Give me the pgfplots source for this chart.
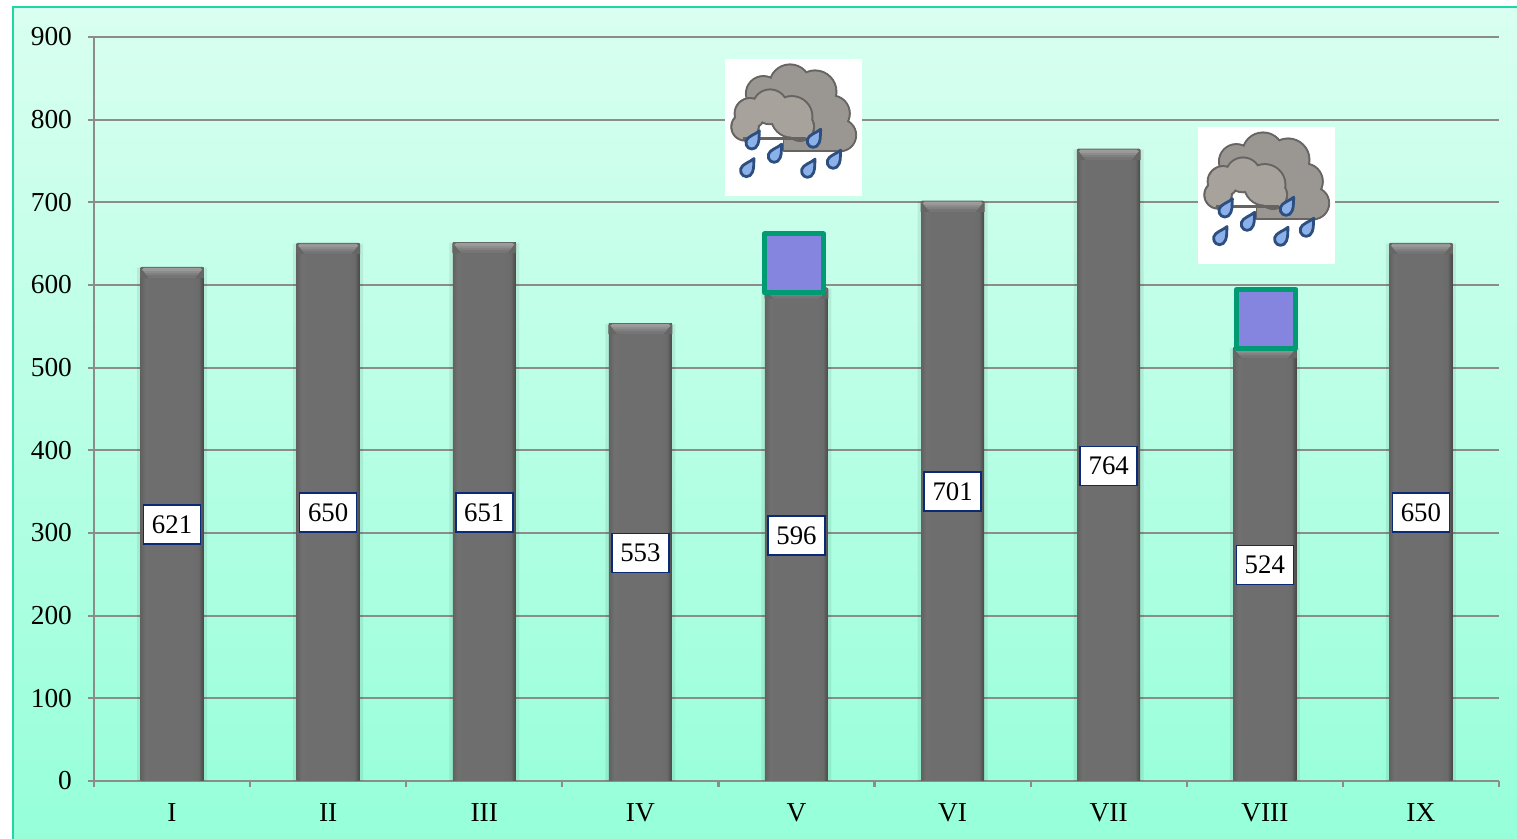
\documentclass[border=0pt]{standalone}
\usepackage{pgfplots}
\pgfplotsset{compat=1.18}
\usepackage{fontspec}
\setmainfont{Liberation Serif}
\definecolor{gridc}{HTML}{8C8C8C}
\definecolor{bord}{HTML}{1FD6A6}
\definecolor{labb}{HTML}{0A2A78}
\definecolor{cldline}{HTML}{666462}
\definecolor{cldback}{HTML}{9A9793}
\definecolor{cldfront}{HTML}{A8A29C}
\definecolor{dropf}{HTML}{8CB0EA}
\definecolor{dropd}{HTML}{2D4F80}
\pgfdeclarehorizontalshading{barshade}{100bp}{color(0bp)=(black!62); color(25bp)=(black!62); color(29bp)=(black!56); color(33bp)=(black!57); color(67bp)=(black!57); color(71bp)=(black!58); color(75bp)=(black!72); color(100bp)=(black!72)}
\pgfdeclareplotmark{barcap}{%
  \fill[black!60] (-15.75pt,-5pt) -- (-15.75pt,-0.6pt) -- (-15.1pt,0.2pt) -- (15.1pt,0.2pt) -- (15.75pt,-0.6pt) -- (15.75pt,-5pt) -- cycle;
  \fill[black!38] (-14.6pt,-1pt) -- (-14pt,-0.3pt) -- (14pt,-0.3pt) -- (14.6pt,-1pt) -- cycle;
  \fill[black!40] (-14.6pt,-1pt) -- (14.6pt,-1pt) -- (13.8pt,-2pt) -- (-13.8pt,-2pt) -- cycle;
  \fill[black!45] (-13.8pt,-2pt) -- (13.8pt,-2pt) -- (13pt,-3pt) -- (-13pt,-3pt) -- cycle;
  \fill[black!50] (-13pt,-3pt) -- (13pt,-3pt) -- (12.2pt,-4pt) -- (-12.2pt,-4pt) -- cycle;
  \fill[black!54] (-12.2pt,-4pt) -- (12.2pt,-4pt) -- (11.4pt,-5pt) -- (-11.4pt,-5pt) -- cycle;
}
\pgfdeclareplotmark{raincloud}{%
  \begin{scope}[x=0.16667pt,y=-0.16667pt,line join=round]
    \fill[white] (-205,-205) rectangle (205,205);
    % back cloud
    \foreach \cx/\cy/\r in {190/130/48,270/105/58,345/125/60,395/190/50,420/255/44,335/225/72}{\fill[cldline] ({\cx-280},{\cy-232}) circle[radius=\r+6];}
    \fill[cldline] (-30,38) rectangle (150,71);
    \foreach \cx/\cy/\r in {190/130/48,270/105/58,345/125/60,395/190/50,420/255/44,335/225/72}{\fill[cldback] ({\cx-280},{\cy-232}) circle[radius=\r];}
    \fill[cldback] (-26,38) rectangle (146,65);
    % front cloud
    \foreach \cx/\cy/\r in {135/230/37,150/190/42,210/170/48,275/200/58,300/230/38}{\fill[cldline] ({\cx-280},{\cy-232}) circle[radius=\r+6];}
    \foreach \cx/\cy/\r in {135/230/37,150/190/42,210/170/48,275/200/58,300/230/38}{\fill[cldfront] ({\cx-280},{\cy-232}) circle[radius=\r];}
    \fill[cldline] (-150,30) rectangle (35,36);
    % drops
    \foreach \dx/\dy in {-122/43,-55/83,62/38,122/101,45/128,-138/126}{%
      \filldraw[fill=dropf,draw=dropd,line width=1.4pt]
        ({\dx+20},{\dy-33}) .. controls ({\dx+18},{\dy-12}) and ({\dx+22},{\dy+5}) .. ({\dx+8},{\dy+18}) .. controls ({\dx-6},{\dy+28}) and ({\dx-24},{\dy+15}) .. ({\dx-20},{\dy-2}) .. controls ({\dx-16},{\dy-17}) and ({\dx+8},{\dy-22}) .. ({\dx+20},{\dy-33}) -- cycle;}
  \end{scope}
}
\pgfplotsset{gbar/.style={ybar, bar width=31.5pt, bar shift=0pt, draw=none, shading=barshade}}
\begin{document}
\begin{tikzpicture}[x=1pt,y=1pt]
\path[use as bounding box] (0,0) rectangle (758.5,419.5);
\fill[white] (0,0) rectangle (758.5,419.5);
\shade[top color={rgb,255:red,217;green,255;blue,240},bottom color={rgb,255:red,150;green,255;blue,218}] (6.5,0) rectangle (758.5,416);
\draw[bord,line width=1pt] (6.5,0) -- (6.5,416) -- (758.5,416);
\begin{axis}[
  at={(47pt,29pt)}, anchor=origin,
  scale only axis, width=702.5pt, height=372pt,
  xmin=0.5, xmax=9.5, ymin=0, ymax=900,
  axis lines*=left,
  axis line style={draw=gridc,line width=1.1pt},
  xtick={1,...,9},
  xticklabels={I,II,III,IV,V,VI,VII,VIII,IX},
  major x tick style={draw=none},
  minor xtick={0.5,1.5,...,9.5},
  minor x tick style={draw=gridc,line width=1.1pt},
  minor tick length=3pt,
  ytick={0,100,...,900},
  y tick style={draw=gridc,line width=1.1pt},
  major tick length=3pt,
  tick align=outside,
  ymajorgrids,
  grid style={draw=gridc,line width=1.1pt},
  tick label style={font=\fontsize{13.7}{15}\selectfont,text=black},
  /pgf/number format/assume math mode=true,
  /pgf/number format/1000 sep={},
  xticklabel style={yshift=-5pt},
  yticklabel style={xshift=-4.5pt},
  clip=false,
]
% halo
\addplot[ybar, bar width=35pt, bar shift=0pt, draw=none, fill=black, fill opacity=0.07] coordinates {(1,621)(2,650)(3,651)(4,553)(5,596)(6,701)(7,764)(8,524)(9,650)};
% bars
\addplot[gbar] coordinates {(1,621)};
\addplot[gbar] coordinates {(2,650)};
\addplot[gbar] coordinates {(3,651)};
\addplot[gbar] coordinates {(4,553)};
\addplot[gbar] coordinates {(5,596)};
\addplot[gbar] coordinates {(6,701)};
\addplot[gbar] coordinates {(7,764)};
\addplot[gbar] coordinates {(8,524)};
\addplot[gbar] coordinates {(9,650)};
% bevel
\addplot[only marks, mark=barcap] coordinates {(1,621)(2,650)(3,651)(4,553)(5,596)(6,701)(7,764)(8,524)(9,650)};
% value labels at half height
\addplot[only marks, mark=none, nodes near coords, point meta=explicit symbolic,
  every node near coord/.style={anchor=center, fill=white, draw=labb, line width=0.8pt, text=black,
    font=\fontsize{13.4}{15}\selectfont, minimum width=28.5pt, minimum height=19.5pt, inner sep=0pt}]
  table[meta=l] {
  x y l
  1 310 621
  2 325 650
  3 325 651
  4 276 553
  5 297 596
  6 350 701
  7 381 764
  8 261.5 524
  9 325 650
  };
% blue squares
\addplot[only marks, mark=square*, mark size=14.75pt, mark options={draw={rgb,255:red,0;green,155;blue,115},fill={rgb,255:red,133;green,132;blue,222},line width=2.5pt,line join=round}] coordinates {(4.985,626)(8.01,559)};
% rain clouds
\addplot[only marks, mark=raincloud] coordinates {(4.98,790.5)(8.01,708.2)};
\end{axis}
\end{tikzpicture}
\end{document}
